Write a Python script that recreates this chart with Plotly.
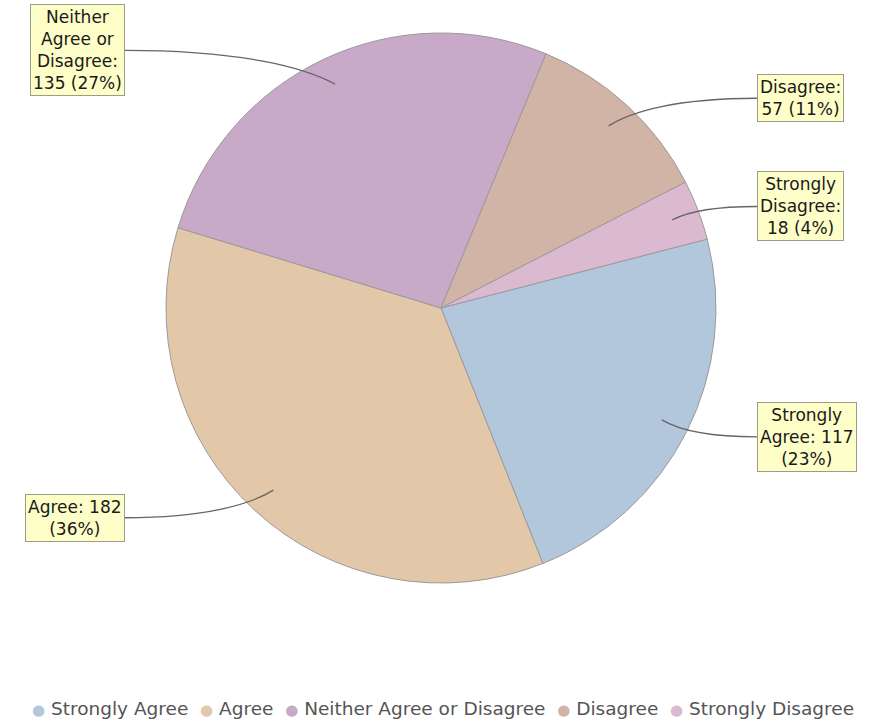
import math
import plotly.graph_objects as go

# ---- data ----
categories = ["Strongly Agree", "Agree", "Neither Agree or Disagree", "Disagree", "Strongly Disagree"]
values = [117, 182, 135, 57, 18]
colors = ["#b2c6dc", "#e3c7a9", "#c8a9c8", "#d2b4a7", "#dbb9d1"]
label_templates = [
    "Strongly<br>Agree: {v}<br>({p}%)",
    "Agree: {v}<br>({p}%)",
    "Neither<br>Agree or<br>Disagree:<br>{v} ({p}%)",
    "Disagree:<br>{v} ({p}%)",
    "Strongly<br>Disagree:<br>{v} ({p}%)",
]

W, H = 874, 725
CX, CY, R = 441, 308, 275
START_DEG = 14.5          # math angle where the first slice starts (clockwise after)
LABEL_RY = 285            # vertical radius used to place labels
RIGHT_X, LEFT_X = 757, 125
FONT = "DejaVu Sans, Verdana, sans-serif"

total = sum(values)
fig = go.Figure()

fig.add_trace(go.Pie(
    labels=categories, values=values, sort=False, direction="clockwise",
    rotation=90 - START_DEG,
    marker=dict(colors=colors, line=dict(color="#9a9a9a", width=1)),
    textinfo="none", hoverinfo="label+value+percent", showlegend=False,
    domain=dict(x=[(CX - R) / W, (CX + R) / W], y=[1 - (CY + R) / H, 1 - (CY - R) / H]),
))

annotations = []
shapes = []
ang = START_DEG
for cat, v, tpl in zip(categories, values, label_templates):
    span = v / total * 360
    mid = math.radians(ang - span / 2)
    ang -= span
    pct = round(v / total * 100)
    px = CX + 0.9 * R * math.cos(mid)
    py = CY - 0.9 * R * math.sin(mid)
    ly = CY - LABEL_RY * math.sin(mid)
    right = math.cos(mid) >= 0
    ex = RIGHT_X if right else LEFT_X
    # curved connector
    c1x = ex + (px - ex) * 0.55
    c1y = ly
    c2x = px - (px - ex) * 0.15
    c2y = ly + (py - ly) * 0.5
    shapes.append(dict(
        type="path", xref="x", yref="y",
        path=f"M {ex},{ly} C {c1x},{c1y} {c2x},{c2y} {px},{py}",
        line=dict(color="#666666", width=1.3), layer="above",
    ))
    annotations.append(dict(
        x=ex, y=ly, xref="x", yref="y", showarrow=False,
        xanchor="left" if right else "right", yanchor="middle",
        text=tpl.format(v=v, p=pct), align="center",
        font=dict(family=FONT, size=17, color="#1a1a1a"),
        bgcolor="#fefec8", borderpad=2, borderwidth=1, bordercolor="#9c9c88",
    ))

# legend as a single line of text with coloured circles
NB = "\u00a0"
legend_text = (NB * 2).join(
    f"<span style='color:{c};font-size:15px'>●</span>{NB}{cat}" for cat, c in zip(categories, colors)
)
annotations.append(dict(
    x=443, y=708, xref="x", yref="y", showarrow=False,
    xanchor="center", yanchor="middle", text=legend_text,
    font=dict(family=FONT, size=18.5, color="#555555"),
))

fig.update_layout(
    width=W, height=H, margin=dict(l=0, r=0, t=0, b=0),
    paper_bgcolor="white", plot_bgcolor="white",
    xaxis=dict(range=[0, W], visible=False, fixedrange=True),
    yaxis=dict(range=[H, 0], visible=False, fixedrange=True),
    annotations=annotations, shapes=shapes, showlegend=False,
)
fig.write_html("out.html")
